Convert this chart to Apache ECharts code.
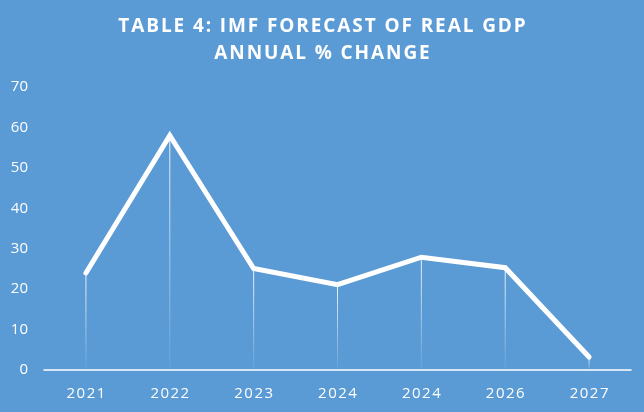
<!DOCTYPE html>
<html>
<head>
<meta charset="utf-8">
<script src="https://cdn.jsdelivr.net/npm/echarts@6/dist/echarts.min.js"></script>
<style>
  html, body { margin: 0; padding: 0; background: #5b9bd5; }
  #chart { width: 644px; height: 412px; }
</style>
</head>
<body>
<div id="chart"></div>
<script>
// IMF real GDP forecast, annual % change (labels as printed in the source)
const years = ['2021', '2022', '2023', '2024', '2024', '2026', '2027']
const gdpChange = [24, 58, 25.1, 21.1, 27.9, 25.3, 3.2]
const yTicks = { min: 0, max: 70, step: 10 }
const titleLines = ['TABLE 4: IMF FORECAST OF REAL GDP', 'ANNUAL % CHANGE']

// canvas text has no letter-spacing, so open it up with hair spaces
function spaced(s) {
  return s.split('').join('\u200A')
}

var chartDom = document.getElementById('chart')
var myChart = echarts.init(chartDom)

var option = {
  backgroundColor: '#5b9bd5',
  animation: false,
  title: {
    text: titleLines.map(spaced).join('\n'),
    left: 'center',
    top: 8,
    textStyle: {
      color: '#ffffff',
      fontFamily: 'Open Sans',
      fontWeight: 'bold',
      fontSize: 19,
      lineHeight: 27
    }
  },
  grid: {
    left: 44,
    right: 13,
    top: 87,
    bottom: 42
  },
  xAxis: {
    type: 'category',
    data: years,
    boundaryGap: true,
    axisLine: { lineStyle: { color: '#ffffff', width: 1.5 } },
    axisTick: { show: false },
    axisLabel: {
      color: '#ffffff',
      fontFamily: 'Open Sans',
      fontSize: 15,
      margin: 16,
      formatter: function (value) {
        return spaced(value)
      }
    }
  },
  yAxis: {
    type: 'value',
    min: yTicks.min,
    max: yTicks.max,
    interval: yTicks.step,
    splitLine: { show: false },
    axisLine: { show: false },
    axisTick: { show: false },
    axisLabel: {
      color: '#ffffff',
      fontFamily: 'Open Sans',
      fontSize: 15,
      margin: 16
    }
  },
  series: [
    {
      // thin fading drop lines under each point
      type: 'bar',
      data: gdpChange,
      barWidth: 1,
      silent: true,
      itemStyle: {
        color: new echarts.graphic.LinearGradient(0, 0, 0, 1, [
          { offset: 0, color: 'rgba(255,255,255,0.9)' },
          { offset: 1, color: 'rgba(255,255,255,0.05)' }
        ])
      }
    },
    {
      type: 'line',
      data: gdpChange,
      symbol: 'none',
      lineStyle: { color: '#ffffff', width: 5, cap: 'round', join: 'miter' },
      z: 3
    }
  ]
}

option && myChart.setOption(option)
</script>
</body>
</html>
